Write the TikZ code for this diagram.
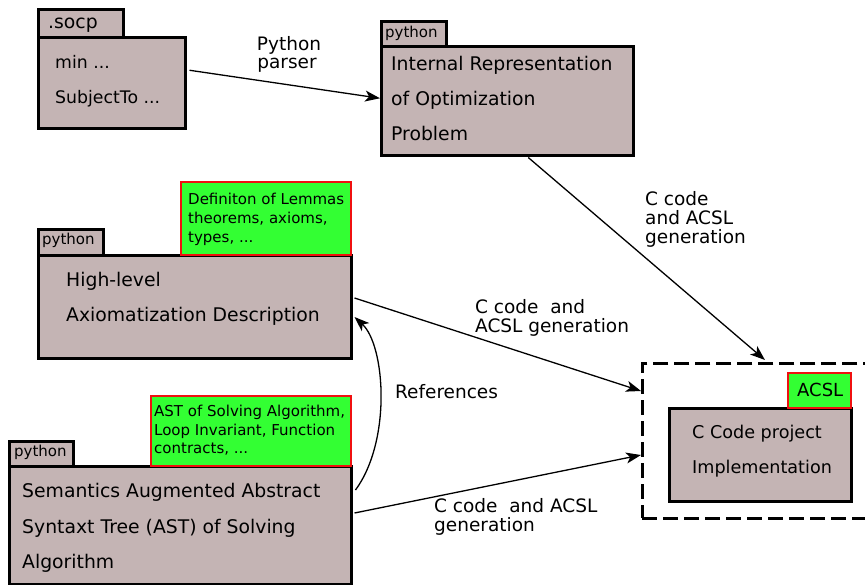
\documentclass[tikz,border=0pt]{standalone}
\usepackage{fontspec}
\setmainfont{DejaVu Sans}
\usetikzlibrary{arrows.meta}
\definecolor{boxfill}{HTML}{C4B4B4}
\definecolor{notefill}{HTML}{33FF33}
\definecolor{notered}{HTML}{F01010}
\tikzset{
  boxshape/.style={draw=black, fill=boxfill, line width=2.5pt, inner sep=0pt, anchor=north west},
  tabshape/.style={draw=black, fill=boxfill, line width=2.5pt, inner sep=0pt, anchor=north west},
  noteshape/.style={draw=notered, fill=notefill, line width=2pt, inner sep=0pt, anchor=north west},
  cont/.style={draw=black, dash pattern=on 15pt off 6pt, line width=2.6pt, inner sep=0pt, anchor=north west},
  txt/.style={inner sep=0pt, anchor=base west, font=\fontsize{18.8}{22}\selectfont},
  smalltxt/.style={inner sep=0pt, anchor=base west, font=\fontsize{17.3}{20}\selectfont},
  tabtxt/.style={inner sep=0pt, anchor=base west, font=\fontsize{15}{18}\selectfont},
  notetxt/.style={inner sep=0pt, anchor=base west, font=\fontsize{15}{18}\selectfont},
  lbl/.style={inner sep=0pt, anchor=base west, font=\fontsize{18.5}{22}\selectfont},
  conn/.style={line width=1.3pt, -{Stealth[length=15pt, width=11pt, inset=4pt]}},
}
\begin{document}
\begin{tikzpicture}[x=1pt, y=-1pt]
\useasboundingbox (0,0) rectangle (865,584);

% .socp folder
\node[tabshape, minimum width=85, minimum height=28] (socptab) at (37,8) {};
\node[boxshape, minimum width=147, minimum height=91] (socp) at (37,36) {};
\node[txt] (socptabt) at (48,28) {.socp};
\node[smalltxt] (socp1) at (55,68) {min ...};
\node[smalltxt] (socp2) at (55,103) {SubjectTo ...};

% internal representation
\node[tabshape, minimum width=65, minimum height=25] (irtab) at (380,20) {};
\node[boxshape, minimum width=252, minimum height=109] (ir) at (380,45) {};
\node[tabtxt] (irtabt) at (385,37) {python};
\node[txt] (ir1) at (391,70) {Internal Representation};
\node[txt] (ir2) at (391,105) {of Optimization};
\node[txt] (ir3) at (391,140) {Problem};

% high-level axiomatization
\node[tabshape, minimum width=65, minimum height=26] (hltab) at (37,228) {};
\node[boxshape, minimum width=313, minimum height=103] (hl) at (37,254) {};
\node[noteshape, minimum width=170, minimum height=73] (hlnote) at (180,181) {};
\node[tabtxt] (hltabt) at (42,244) {python};
\node[txt] (hl1) at (66,286) {High-level};
\node[txt] (hl2) at (66,321) {Axiomatization Description};
\node[notetxt] (hln1) at (188,204) {Definiton of Lemmas};
\node[notetxt] (hln2) at (188,223) {theorems, axioms,};
\node[notetxt] (hln3) at (188,242) {types, ...};

% AST
\node[tabshape, minimum width=64, minimum height=25] (asttab) at (8,440) {};
\node[boxshape, minimum width=342, minimum height=118] (ast) at (8,465) {};
\node[noteshape, minimum width=200, minimum height=70] (astnote) at (150,395) {};
\node[tabtxt] (asttabt) at (14,456) {python};
\node[txt] (ast1) at (22,497) {Semantics Augmented Abstract};
\node[txt] (ast2) at (22,533) {Syntaxt Tree (AST) of Solving};
\node[txt] (ast3) at (22,568) {Algorithm};
\node[notetxt] (astn1) at (154,416) {AST of Solving Algorithm,};
\node[notetxt] (astn2) at (154,435) {Loop Invariant, Function};
\node[notetxt] (astn3) at (154,453) {contracts, ...};

% C code project container
\node[cont, minimum width=240, minimum height=155] (dbox) at (641,362) {};
\node[boxshape, minimum width=182, minimum height=93] (ccode) at (668,407) {};
\node[noteshape, minimum width=63, minimum height=35] (acsl) at (787,372) {};
\node[lbl, font=\fontsize{18}{22}\selectfont] (acslt) at (797,396) {ACSL};
\node[lbl, font=\fontsize{17.6}{20}\selectfont] (cc1) at (692,438) {C Code project};
\node[lbl, font=\fontsize{17.6}{20}\selectfont] (cc2) at (692,473) {Implementation};

% connectors
\coordinate (t2) at ([xshift=124pt, yshift=2pt]dbox.north west);
\coordinate (t3) at ([yshift=-29pt]dbox.north west);
\coordinate (t4) at ([yshift=-93pt]dbox.north west);
\draw[conn] ([xshift=3pt, yshift=12.5pt]socp.east) -- ([yshift=2.5pt]ir.west);
\draw[conn] ([xshift=21pt, yshift=-1pt]ir.south) -- (t2);
\draw[conn] ([xshift=2pt, yshift=-44pt]hl.north east) -- (t3);
\draw[conn] ([xshift=2pt, yshift=-48pt]ast.north east) -- (t4);
\draw[conn] ([xshift=3pt, yshift=-25pt]ast.north east) .. controls (392,440) and (385,345) .. ([xshift=2pt, yshift=-63pt]hl.north east);

% labels
\node[lbl, anchor=base] (pp1) at (289,50) {Python};
\node[lbl, anchor=base] (pp2) at (287,68) {parser};
\node[lbl] (l21) at (645,205) {C code};
\node[lbl] (l22) at (645,224) {and ACSL};
\node[lbl] (l23) at (645,243) {generation};
\node[lbl] (l31) at (475,313) {C code\ \ and};
\node[lbl] (l32) at (475,332) {ACSL generation};
\node[lbl] (l41) at (434,512) {C code\ \ and ACSL};
\node[lbl] (l42) at (434,531) {generation};
\node[lbl] (refl) at (395,398) {References};
\end{tikzpicture}
\end{document}
